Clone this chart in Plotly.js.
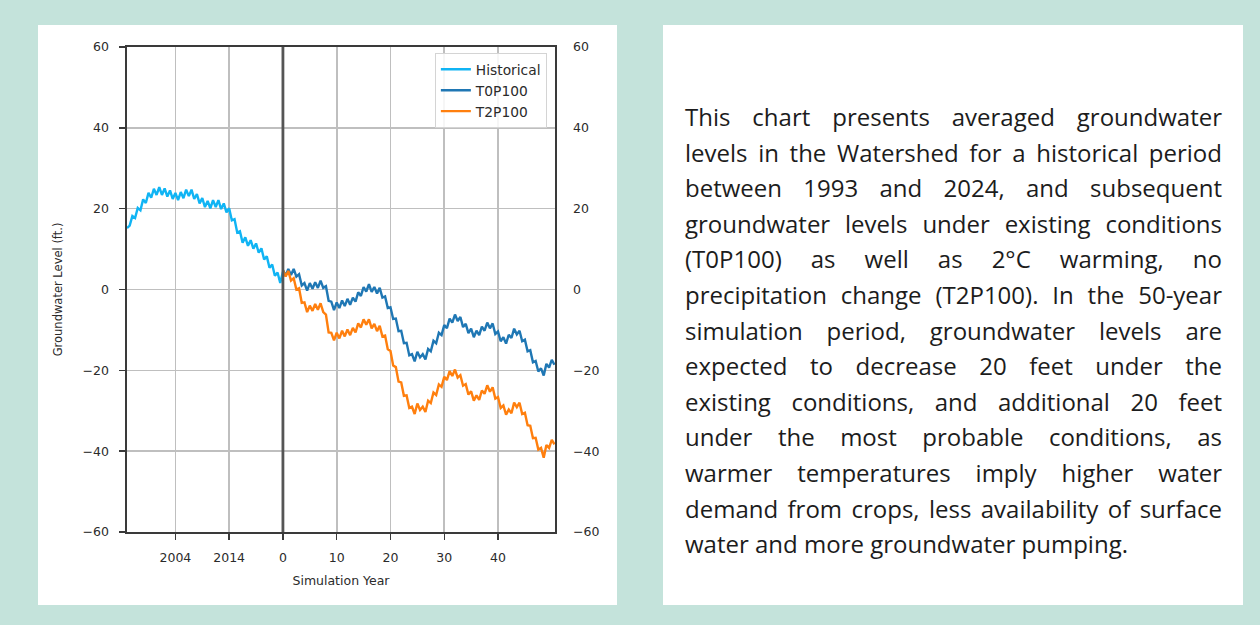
<!DOCTYPE html>
<html>
<head>
<meta charset="utf-8">
<script src="https://cdn.plot.ly/plotly-3.0.1.min.js"></script>
<style>
  html, body { margin: 0; padding: 0; }
  body { width: 1260px; height: 625px; background: #c4e3db; position: relative; overflow: hidden; }
  .panel { position: absolute; background: #ffffff; }
  #chartPanel { left: 38px; top: 25px; width: 579px; height: 580px; }
  #textPanel { left: 663px; top: 25px; width: 580px; height: 580px; }
  #chart { width: 579px; height: 580px; }
  #caption {
    position: absolute; left: 22px; top: 74px; width: 537px;
    font-family: "Open Sans", "Noto Sans", sans-serif; font-size: 24px;
    line-height: 35.6px; color: #1c1c1c;
  }
  #caption .ln { white-space: nowrap; text-align: justify; text-align-last: justify; }
  #caption .ln.last { text-align-last: left; }
</style>
</head>
<body>
<div id="chartPanel" class="panel"><div id="chart"></div></div>
<div id="textPanel" class="panel"><div id="caption"></div></div>
<script>
// Simulation year axis: negative years are the historical record (year 0 = 2024)
const histYears = [-29,-28.5,-28,-27.5,-27,-26.5,-26,-25.5,-25,-24.5,-24,-23.5,-23,-22.5,-22,-21.5,-21,-20.5,-20,-19.5,
  -19,-18.5,-18,-17.5,-17,-16.5,-16,-15.5,-15,-14.5,-14,-13.5,-13,-12.5,-12,-11.5,-11,-10.5,-10,-9.5,
  -9,-8.5,-8,-7.5,-7,-6.5,-6,-5.5,-5,-4.5,-4,-3.5,-3,-2.5,-2,-1.5,-1,-0.5,0];
const histLevel = [15.2,15.8,18.2,17.7,20.2,19.6,22.3,21.4,23.9,22.7,24.9,23.4,25.3,23.4,25.0,23.0,24.5,22.4,23.9,22.1,
  24.1,22.6,24.7,23.1,24.7,22.4,23.6,21.3,22.6,20.4,21.9,20.1,22.1,20.4,22.1,19.9,21.3,19.1,20.1,17.1,
  17.4,14.1,14.4,11.6,12.9,10.8,12.2,10.1,11.4,9.1,10.2,7.4,8.2,5.4,6.2,3.4,4.2,1.6,4.4];

const simYears = [0,0.5,1,1.5,2,2.5,3,3.5,4,4.5,5,5.5,6,6.5,7,7.5,8,8.5,9,9.5,
  10,10.5,11,11.5,12,12.5,13,13.5,14,14.5,15,15.5,16,16.5,17,17.5,18,18.5,19,19.5,
  20,20.5,21,21.5,22,22.5,23,23.5,24,24.5,25,25.5,26,26.5,27,27.5,28,28.5,29,29.5,
  30,30.5,31,31.5,32,32.5,33,33.5,34,34.5,35,35.5,36,36.5,37,37.5,38,38.5,39,39.5,
  40,40.5,41,41.5,42,42.5,43,43.5,44,44.5,45,45.5,46,46.5,47,47.5,48,48.5,49,49.5,50,50.5];

// Existing conditions
const t0p100 = [4.8,3.4,5.1,3.6,5.1,3.2,3.8,1.0,1.6,-0.3,1.6,0.2,1.8,0.4,2.2,0.4,0.8,-2.8,-3.0,-5.1,
  -3.2,-4.6,-2.7,-4.1,-2.3,-3.8,-2.0,-3.0,-0.7,-1.6,0.6,-0.5,1.3,-0.6,0.6,-1.0,0.4,-2.0,-1.7,-4.6,
  -4.4,-7.3,-7.2,-10.3,-10.2,-13.3,-13.2,-16.3,-16.0,-17.8,-15.4,-16.8,-16.0,-17.3,-14.7,-15.3,-12.7,-13.3,-10.7,-11.3,
  -8.8,-9.6,-7.2,-8.2,-6.2,-7.8,-6.8,-9.3,-8.5,-10.8,-9.7,-11.8,-10.2,-11.3,-9.2,-10.2,-8.2,-9.6,-8.4,-11.0,
  -10.4,-12.8,-11.8,-13.4,-11.2,-12.0,-9.7,-11.1,-10.2,-12.8,-12.4,-15.3,-15.0,-18.0,-17.7,-20.3,-19.5,-21.3,-18.4,-19.3,-17.4,-18.6];

// 2 °C warming, no precipitation change
const t2p100 = [4.8,3.2,4.6,2.2,2.8,0.0,0.3,-3.3,-3.2,-5.6,-4.0,-5.3,-3.6,-5.0,-3.4,-5.6,-6.2,-10.6,-10.7,-12.6,
  -10.7,-12.1,-10.2,-11.6,-9.9,-11.3,-9.5,-10.6,-8.4,-9.4,-7.4,-8.7,-7.4,-9.6,-8.5,-10.3,-9.0,-11.6,-11.4,-14.8,
  -15.2,-18.8,-19.2,-22.8,-23.0,-26.3,-26.2,-29.3,-29.0,-30.8,-28.2,-29.8,-29.0,-30.3,-27.5,-28.1,-25.5,-26.1,-23.5,-24.1,
  -21.6,-22.4,-20.2,-21.4,-19.8,-21.8,-21.2,-23.8,-23.4,-26.0,-25.2,-27.5,-26.2,-27.3,-25.0,-25.8,-23.7,-25.3,-24.2,-27.0,
  -26.6,-29.3,-28.7,-31.0,-29.7,-30.6,-28.0,-29.1,-28.0,-30.8,-30.5,-33.6,-33.7,-36.8,-36.7,-39.6,-39.2,-41.6,-38.5,-39.2,-37.2,-38.3];

const xTickVals = [-20, -10, 0, 10, 20, 30, 40];
const xTickText = ['2004', '2014', '0', '10', '20', '30', '40'];
const yTickVals = [-60, -40, -20, 0, 20, 40, 60];

const captionLines = [
  'This chart presents averaged groundwater',
  'levels in the Watershed for a historical period',
  'between 1993 and 2024, and subsequent',
  'groundwater levels under existing conditions',
  '(T0P100) as well as 2°C warming, no',
  'precipitation change (T2P100). In the 50-year',
  'simulation period, groundwater levels are',
  'expected to decrease 20 feet under the',
  'existing conditions, and additional 20 feet',
  'under the most probable conditions, as',
  'warmer temperatures imply higher water',
  'demand from crops, less availability of surface',
  'water and more groundwater pumping.'
];

const cap = document.getElementById('caption');
captionLines.forEach((t, i) => {
  const d = document.createElement('div');
  d.className = 'ln' + (i === captionLines.length - 1 ? ' last' : '');
  d.textContent = t;
  cap.appendChild(d);
});

const textColor = '#2b2b2b';
const tickFont = { family: 'DejaVu Sans, sans-serif', size: 12.5, color: textColor };

const traces = [
  { x: histYears, y: histLevel, name: 'Historical', type: 'scatter', mode: 'lines',
    line: { color: '#10b4f4', width: 2.4 } },
  { x: simYears, y: t0p100, name: 'T0P100', type: 'scatter', mode: 'lines',
    line: { color: '#1f77b4', width: 2.4 } },
  { x: simYears, y: t2p100, name: 'T2P100', type: 'scatter', mode: 'lines',
    line: { color: '#ff7f0e', width: 2.4 } },
  // empty trace so the mirrored right-hand axis is drawn
  { x: [], y: [], yaxis: 'y2', type: 'scatter', mode: 'lines', showlegend: false, hoverinfo: 'skip' }
];

const layout = {
  width: 579, height: 580,
  margin: { l: 89, r: 62, t: 22, b: 73 },
  paper_bgcolor: '#ffffff', plot_bgcolor: '#ffffff',
  font: tickFont,
  showlegend: true,
  legend: {
    x: 0.981, xanchor: 'right', y: 0.988, yanchor: 'top',
    bgcolor: 'rgba(255,255,255,0.85)', bordercolor: '#d4d4d4', borderwidth: 1,
    font: { family: 'DejaVu Sans, sans-serif', size: 13.8, color: textColor },
    itemwidth: 30
  },
  xaxis: {
    range: [-29, 50.6], tickmode: 'array', tickvals: xTickVals, ticktext: xTickText,
    showgrid: true, gridcolor: '#bfbfbf', gridwidth: 1.6, zeroline: false,
    showline: true, linecolor: '#3a3a3a', linewidth: 1.6, mirror: true,
    ticks: 'outside', ticklen: 6, tickwidth: 1.4, tickcolor: '#3a3a3a',
    ticklabelstandoff: 7,
    title: { text: 'Simulation Year', font: { family: 'DejaVu Sans, sans-serif', size: 12.5, color: textColor }, standoff: 12 }
  },
  yaxis: {
    range: [-60, 60], tickmode: 'array', tickvals: yTickVals,
    showgrid: true, gridcolor: '#bfbfbf', gridwidth: 1.6, zeroline: false,
    showline: true, linecolor: '#3a3a3a', linewidth: 1.6, mirror: true,
    ticks: 'outside', ticklen: 6, tickwidth: 1.4, tickcolor: '#3a3a3a',
    ticklabelstandoff: 8,
    title: { text: 'Groundwater Level (ft.)', font: { family: 'DejaVu Sans, sans-serif', size: 11.5, color: textColor }, standoff: 17 }
  },
  yaxis2: {
    overlaying: 'y', side: 'right', range: [-60, 60], tickmode: 'array', tickvals: yTickVals,
    showgrid: false, zeroline: false, showline: false, ticks: '',
    ticklabelstandoff: 17
  },
  shapes: [
    { type: 'line', xref: 'x', yref: 'paper', x0: 0, x1: 0, y0: 0, y1: 1,
      line: { color: '#555555', width: 2.8 }, layer: 'above' }
  ]
};

Plotly.newPlot('chart', traces, layout, { displayModeBar: false, staticPlot: true });
</script>
</body>
</html>
